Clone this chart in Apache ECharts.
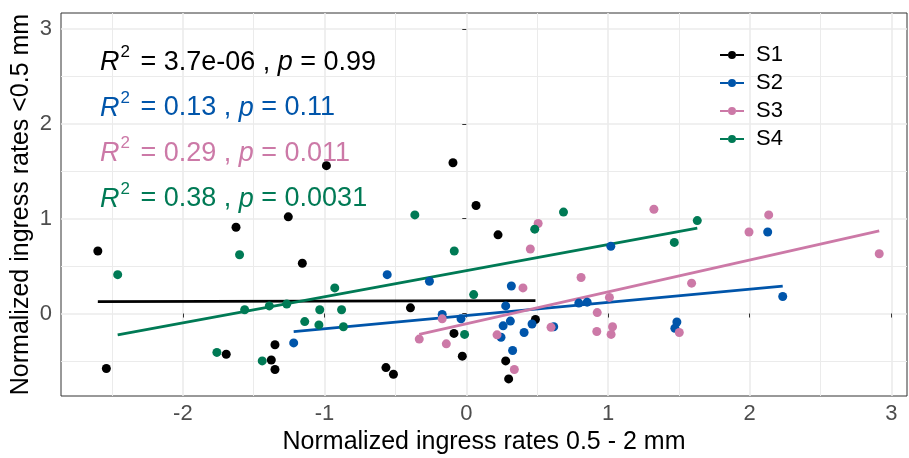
<!DOCTYPE html>
<html><head><meta charset="utf-8">
<script src="https://cdn.jsdelivr.net/npm/echarts@6/dist/echarts.min.js"></script>
<style>html,body{margin:0;padding:0;background:#fff}#c{width:909px;height:458px}</style>
</head><body><div id="c"></div>
<script>
const seriesNames = ['S1', 'S2', 'S3', 'S4'];
const colors = ['#000000', '#0055AA', '#CC79A7', '#007A55'];

const s1 = [[-2.60,0.66],[-2.54,-0.58],[-1.625,0.91],[-1.694,-0.43],[-1.256,1.02],[-1.157,0.53],
  [-1.35,-0.33],[-1.376,-0.49],[-1.35,-0.59],[-0.987,1.56],[-0.094,1.59],[0.069,1.14],[0.224,0.83],
  [-0.394,0.06],[0.488,-0.063],[-0.087,-0.21],[-0.028,-0.45],[0.278,-0.50],[0.299,-0.69],
  [-0.567,-0.57],[-0.514,-0.64]];
const s2 = [[-1.218,-0.31],[-0.558,0.41],[-0.26,0.34],[0.318,0.29],[0.278,0.08],[-0.17,-0.01],
  [-0.037,-0.056],[0.311,-0.08],[0.26,-0.13],[0.464,-0.11],[0.408,-0.20],[0.245,-0.25],[0.327,-0.39],
  [1.02,0.71],[2.127,0.86],[2.233,0.18],[0.794,0.11],[0.853,0.12],[0.617,-0.14],[1.486,-0.09],[1.472,-0.155]];
const s3 = [[0.507,0.95],[0.452,0.68],[0.40,0.27],[-0.17,-0.056],[-0.332,-0.27],[0.217,-0.225],
  [-0.141,-0.32],[0.339,-0.59],[1.324,1.10],[2.134,1.04],[1.995,0.86],[2.914,0.63],[0.81,0.38],
  [1.59,0.32],[1.01,0.17],[0.924,0.01],[0.598,-0.145],[1.032,-0.14],[0.921,-0.19],[1.022,-0.22],[1.503,-0.20]];
const s4 = [[-2.46,0.41],[-1.60,0.62],[-1.564,0.04],[-1.39,0.08],[-1.267,0.10],[-1.14,-0.085],
  [-1.76,-0.41],[-1.44,-0.50],[-0.363,1.04],[0.483,0.89],[-0.085,0.66],[-0.928,0.27],[0.052,0.20],
  [-1.034,0.04],[-0.88,0.04],[-1.04,-0.12],[-0.867,-0.14],[-0.012,-0.22],[0.686,1.07],[1.63,0.98],[1.468,0.75]];
const allSeries = [s1, s2, s3, s4];

// fitted regression lines
const fitSlope = [0.003, 0.139, 0.336, 0.275];
const fitIntercept = [0.134, -0.021, -0.108, 0.452];

// stat labels
const r2Labels = ['3.7e-06', '0.13', '0.29', '0.38'];
const pLabels = ['0.99', '0.11', '0.011', '0.0031'];

const xRange = [-2.86, 3.11];
const yRange = [-0.87, 3.17];
const minorX = [-2.5, -1.5, -0.5, 0.5, 1.5, 2.5];
const minorY = [-0.5, 0.5, 1.5, 2.5];

const FONT = 'Liberation Sans';
const chart = echarts.init(document.getElementById('c'), null, {renderer: 'canvas'});

const series = [];
// minor grid lines
series.push({
  type: 'line', data: [], silent: true, z: 0, zlevel: 0,
  markLine: {
    silent: true, symbol: ['none', 'none'], animation: false, z: 0,
    label: {show: false},
    emphasis: {disabled: true},
    lineStyle: {color: '#EBEBEB', width: 1, type: 'solid'},
    data: minorX.map(v => ({xAxis: v})).concat(minorY.map(v => ({yAxis: v})))
  }
});
allSeries.forEach((d, i) => {
  series.push({
    name: seriesNames[i], type: 'scatter', data: d, symbol: 'circle', symbolSize: 9,
    itemStyle: {color: colors[i], opacity: 1}, z: 4, animation: false
  });
});
allSeries.forEach((d, i) => {
  const xs = d.map(p => p[0]);
  const x0 = Math.min(...xs), x1 = Math.max(...xs);
  series.push({
    name: seriesNames[i], type: 'line', showSymbol: false, symbol: 'none', z: 3, animation: false,
    data: [[x0, fitIntercept[i] + fitSlope[i] * x0], [x1, fitIntercept[i] + fitSlope[i] * x1]],
    lineStyle: {color: colors[i], width: 2.8}, itemStyle: {color: colors[i]}
  });
});

const legendIcon = 'path://M0,3h8v2h-8z M16,3h8v2h-8z M8,4a4,4 0 1,0 8,0a4,4 0 1,0 -8,0z';

const axisCommon = {
  type: 'value', minInterval: 1, maxInterval: 1,
  axisLine: {show: false},
  axisTick: {show: true, length: 4, lineStyle: {color: '#333333', width: 1}},
  axisLabel: {color: '#4D4D4D', fontFamily: FONT, fontSize: 22, showMinLabel: false, showMaxLabel: false},
  splitLine: {show: true, showMinLine: false, showMaxLine: false, lineStyle: {color: '#EBEBEB', width: 1.6}},
  nameLocation: 'middle',
  nameTextStyle: {color: '#000', fontFamily: FONT, fontSize: 25}
};

const graphic = r2Labels.map((r, i) => ({
  type: 'text', left: 100, top: 44 + i * 45.5, z: 10,
  style: {
    text: '{i|R}{s|2}{n| = ' + r + ' , }{i|p}{n| = ' + pLabels[i] + '}',
    fill: colors[i],
    rich: {
      i: {fontFamily: FONT, fontSize: 27, fontStyle: 'italic', lineHeight: 32, fill: colors[i], verticalAlign: 'bottom'},
      n: {fontFamily: FONT, fontSize: 27, lineHeight: 32, fill: colors[i], verticalAlign: 'bottom'},
      s: {fontFamily: FONT, fontSize: 17, lineHeight: 20, fill: colors[i], verticalAlign: 'top', padding: [0, 3, 0, 1]}
    }
  }
}));

chart.setOption({
  animation: false,
  backgroundColor: '#ffffff',
  grid: {left: 61, right: 2, top: 13, bottom: 62, outerBoundsMode: 'none', containLabel: false,
    show: true, borderColor: '#333333', borderWidth: 1, backgroundColor: 'transparent'},
  xAxis: Object.assign({}, axisCommon, {
    min: xRange[0], max: xRange[1],
    name: 'Normalized ingress rates 0.5 - 2 mm', nameGap: 32,
    axisLabel: Object.assign({}, axisCommon.axisLabel, {margin: 7})
  }),
  yAxis: Object.assign({}, axisCommon, {
    min: yRange[0], max: yRange[1],
    name: 'Normalized ingress rates <0.5 mm', nameGap: 27, nameMoveOverlap: false,
    axisLabel: Object.assign({}, axisCommon.axisLabel, {margin: 9})
  }),
  legend: {
    orient: 'vertical', left: 715, top: 36, itemGap: 0,
    icon: legendIcon, itemWidth: 24, itemHeight: 8,
    data: seriesNames,
    textStyle: {fontFamily: FONT, fontSize: 22, color: '#000', lineHeight: 28, padding: [0, 0, 0, 7]}
  },
  graphic: graphic,
  series: series
});
</script>
</body></html>
